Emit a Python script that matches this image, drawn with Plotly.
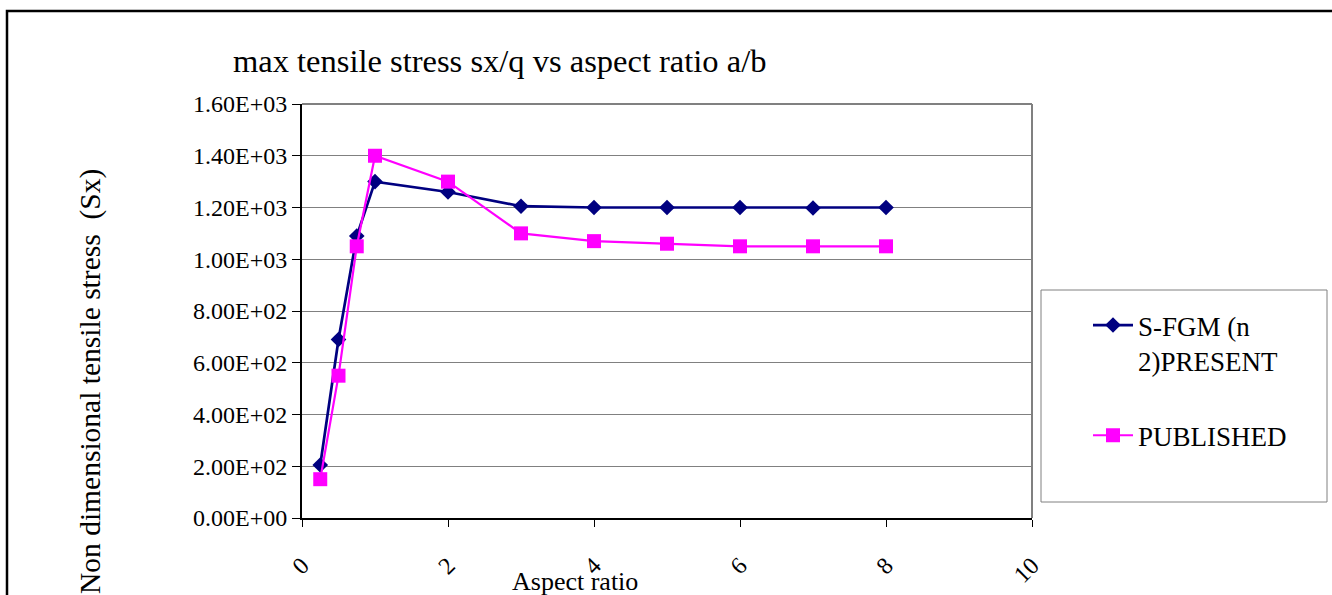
import plotly.graph_objects as go

# Aspect ratio a/b and the max tensile stress sx/q for each data set
aspect_ratio = [0.25, 0.5, 0.75, 1, 2, 3, 4, 5, 6, 7, 8]
sfgm_present = [205, 690, 1090, 1300, 1260, 1205, 1200, 1200, 1200, 1198, 1200]
published = [150, 550, 1050, 1400, 1300, 1100, 1070, 1060, 1050, 1050, 1050]

y_tick_values = [0, 200, 400, 600, 800, 1000, 1200, 1400, 1600]
y_tick_labels = ["0.00E+00", "2.00E+02", "4.00E+02", "6.00E+02", "8.00E+02",
                 "1.00E+03", "1.20E+03", "1.40E+03", "1.60E+03"]
x_tick_values = [0, 2, 4, 6, 8, 10]

W, H = 1332, 595
L, R, T, B = 302, 300, 104, 77
FONT = "Liberation Serif, Times New Roman, serif"


def px_x(p):
    return (p - L) / (W - L - R)


def px_y(p):
    return 1 - (p - T) / (H - T - B)


fig = go.Figure()
fig.add_trace(go.Scatter(
    x=aspect_ratio, y=sfgm_present, mode="lines+markers",
    name="S-FGM (n<br>2)PRESENT", legendgroup="a",
    line=dict(color="#000080", width=2.7),
    marker=dict(symbol="diamond", size=12, color="#000080"),
))
fig.add_trace(go.Scatter(
    x=aspect_ratio, y=published, mode="lines+markers",
    name="PUBLISHED", legendgroup="b",
    line=dict(color="#FF00FF", width=2.2),
    marker=dict(symbol="square", size=14, color="#FF00FF"),
))

fig.update_layout(
    width=W, height=H,
    margin=dict(l=L, r=R, t=T, b=B, autoexpand=False),
    paper_bgcolor="white", plot_bgcolor="white",
    font=dict(family=FONT, color="black"),
    title=dict(text="max tensile stress sx/q vs aspect ratio a/b",
               font=dict(size=32.5, family=FONT, color="black"),
               xref="container", yref="container",
               x=233 / W, xanchor="left", y=1 - 61 / H, yanchor="middle"),
    showlegend=True,
    legend=dict(x=px_x(1088), y=px_y(301), xanchor="left", yanchor="top",
                font=dict(size=27, family=FONT, color="black"),
                bgcolor="rgba(0,0,0,0)", borderwidth=0,
                tracegroupgap=37, valign="top", itemwidth=40),
)

fig.update_xaxes(
    range=[0, 10], tickvals=x_tick_values, ticktext=[str(v) for v in x_tick_values],
    tickangle=-45, tickfont=dict(size=24, family=FONT),
    ticks="outside", ticklen=7, tickcolor="black", tickwidth=1,
    ticklabelstandoff=15, automargin=False,
    showline=True, linecolor="black", linewidth=2, mirror=False,
    showgrid=False, zeroline=False,
)
fig.update_yaxes(
    range=[0, 1600], tickvals=y_tick_values, ticktext=y_tick_labels,
    tickfont=dict(size=24, family=FONT), automargin=False,
    ticks="outside", ticklen=8, tickcolor="black", tickwidth=1,
    showline=True, linecolor="black", linewidth=2,
    showgrid=True, gridcolor="#808080", gridwidth=1, zeroline=False,
)

shapes = [
    # gray frame on the top and right of the plot area
    dict(type="line", xref="paper", yref="paper", x0=0, x1=1, y0=1, y1=1,
         line=dict(color="#808080", width=2)),
    dict(type="line", xref="paper", yref="paper", x0=1, x1=1, y0=0, y1=1,
         line=dict(color="#808080", width=2)),
    # legend box
    dict(type="rect", xref="paper", yref="paper",
         x0=px_x(1041), x1=px_x(1327), y0=px_y(502), y1=px_y(290),
         line=dict(color="#808080", width=1), fillcolor="rgba(0,0,0,0)"),
    # chart area border
    dict(type="rect", xref="paper", yref="paper",
         x0=px_x(7), x1=px_x(1345), y0=px_y(620), y1=px_y(11),
         line=dict(color="black", width=2.5), fillcolor="rgba(0,0,0,0)"),
]
fig.update_layout(shapes=shapes)

fig.add_annotation(text="Non dimensional tensile stress \u00a0(Sx)",
                   xref="paper", yref="paper", x=px_x(90), y=px_y(382),
                   textangle=-90, showarrow=False,
                   font=dict(size=29.5, family=FONT, color="black"),
                   xanchor="center", yanchor="middle")
fig.add_annotation(text="Aspect ratio",
                   xref="paper", yref="paper", x=px_x(575), y=px_y(581),
                   showarrow=False,
                   font=dict(size=26, family=FONT, color="black"),
                   xanchor="center", yanchor="middle")

fig.write_html("out.html")
